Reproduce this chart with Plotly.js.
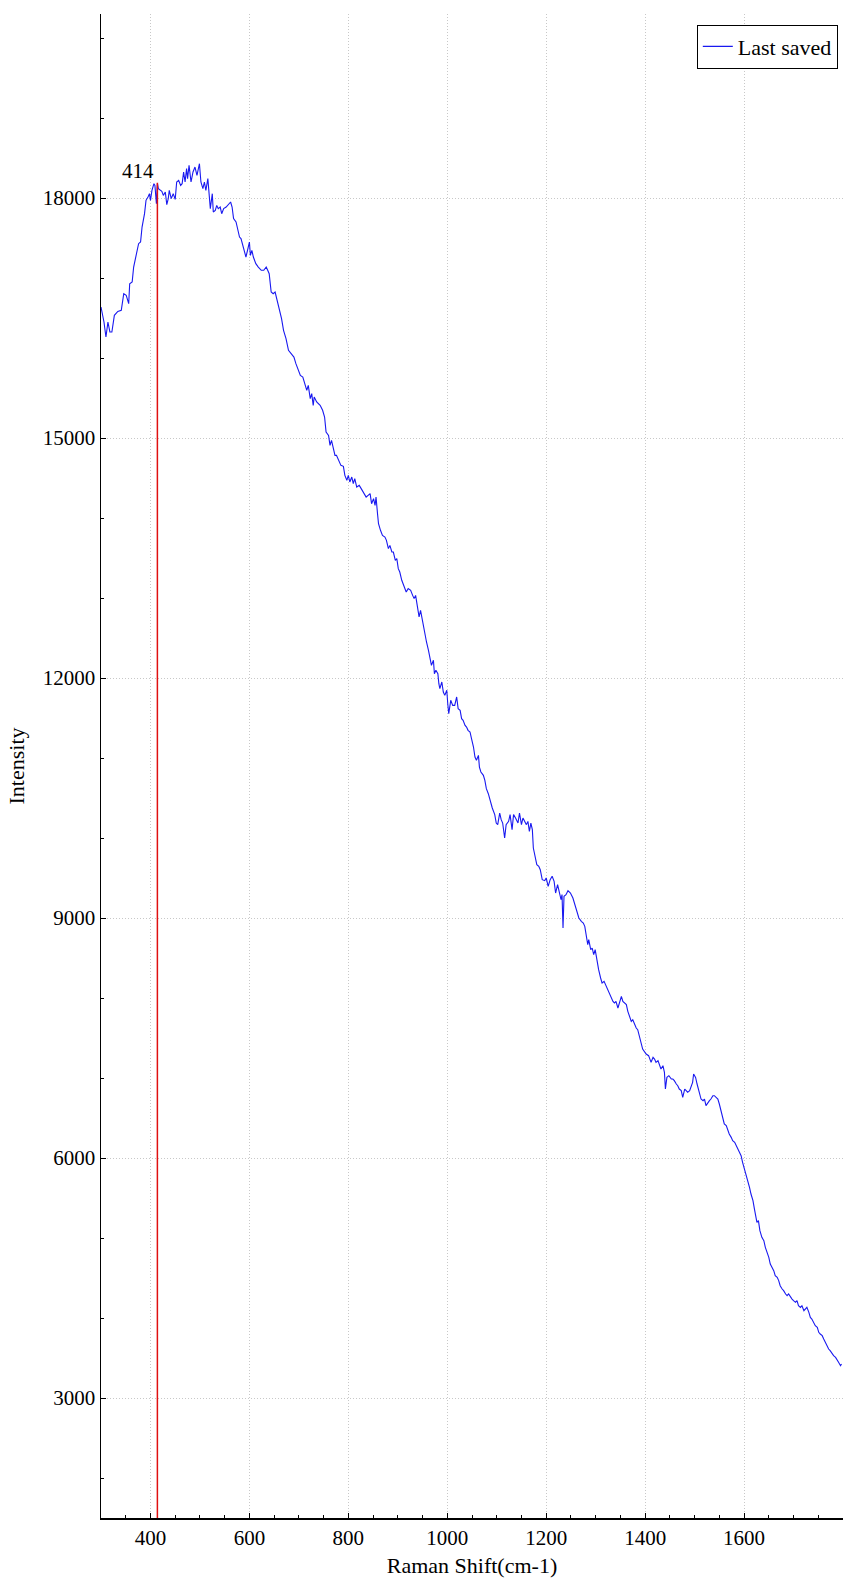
<!DOCTYPE html>
<html>
<head>
<meta charset="utf-8">
<script src="https://cdn.plot.ly/plotly-3.0.1.min.js"></script>
<style>html,body{margin:0;padding:0;background:#fff;}#chart{width:858px;height:1578px;}</style>
</head>
<body>
<div id="chart"></div>
<script>
const ramanShift = [
300,306,310,314,318,322,327,334,341,346,351,356,358,363,366,371,376,380,383,388,391,395,398,400,403,407,409,412,414,416,420,423,426,430,433,436,438,442,446,450,453,457,461,464,467,470,473,475,478,482,486,490,494,497,499,502,506,509,512,516,519,521,525,527,531,534,537,541,544,548,553,558,562,565,568,573,576,580,583,587,590,593,597,600,602,605,608,613,618,624,629,634,637,640,644,648,652,657,661,665,669,674,679,684,690,694,699,703,708,712,
716,719,723,726,729,731,736,743,748,752,755,760,763,766,770,773,776,780,785,790,793,797,800,803,807,810,813,817,822,826,830,836,840,844,847,851,854,856,859,861,865,869,874,877,881,884,888,891,895,898,901,904,908,913,917,921,926,930,933,936,939,941,943,946,950,955,958,962,965,968,972,974,977,981,983,985,989,992,995,999,1001,1003,1007,1011,1015,1019,1022,1026,1029,1032,1036,1039,1042,1046,1049,1053,1056,1059,1063,1065,1068,1073,1076,1079,1083,
1086,1091,1096,1099,1102,1106,1109,1112,1116,1119,1124,1127,1131,1134,1138,1143,1146,1150,1153,1156,1160,1163,1166,1169,1172,1174,1178,1181,1185,1188,1192,1197,1200,1204,1208,1212,1216,1219,1223,1227,1230,1232,1234,1236,1240,1244,1249,1254,1258,1262,1266,1271,1275,1278,1281,1284,1286,1290,1293,1296,1299,1302,1306,1310,1313,1317,1320,1323,1327,1331,1335,1338,1341,1345,1348,1352,1355,1358,1362,1365,1368,1372,1375,1379,1382,1385,
1389,1395,1402,1407,1412,1416,1419,1422,1426,1429,1432,1436,1439,1441,1444,1448,1453,1456,1459,1463,1466,1469,1473,1476,1480,1483,1486,1490,1493,1496,1498,1502,1505,1508,1513,1517,1520,1523,1527,1530,1533,1537,1540,1543,1547,1550,1554,1557,1560,1564,1567,1570,1574,1577,1581,1584,1587,1591,1594,1597,1601,1604,1607,1611,1614,1618,1621,1624,1626,1629,1632,1636,1640,1643,1647,1650,1653,1657,1660,1663,1667,1670,1673,1677,1680,1684,1687,1690,1694,1697,1700,1704,1707,1710,1714,1717,1721,1724,1727,1731,1734,1737,1741,1744,1748,1751,1754,1758,1761,1764,1768,1771,1774,1778,1781,1785,1788,1791,1795,1797
];
const intensity = [
16637,16450,16262,16450,16325,16325,16533,16583,16596,16804,16783,16679,16929,16950,17137,17283,17429,17450,17637,17804,17971,18012,18054,17971,18096,18179,18158,17929,18185,18117,18096,18083,18033,18075,17917,17992,18096,17992,18054,17983,18200,18221,18158,18179,18325,18200,18367,18242,18408,18200,18325,18387,18283,18408,18429,18200,18117,18200,18096,18242,18033,17867,18054,17825,17846,17908,17867,17887,17804,17867,17887,17929,17950,17887,17742,17700,17617,17512,17492,17408,17325,17262,17367,17450,17283,17346,17262,17179,17137,17096,17096,17137,17096,17054,16825,16804,16825,16700,16575,16492,16346,16242,16096,16054,16012,15929,15846,15783,15762,15679,
15596,15658,15492,15554,15408,15512,15450,15408,15346,15262,15075,15033,14908,14971,14846,14783,14783,14721,14658,14646,14533,14471,14533,14450,14512,14429,14492,14387,14408,14367,14325,14262,14283,14304,14179,14242,14158,14262,14054,13929,13846,13783,13762,13721,13617,13658,13575,13575,13471,13492,13367,13325,13221,13137,13075,13117,13096,13033,12992,13033,12908,12887,12763,12846,12700,12512,12450,12346,12221,12158,12221,12054,12096,12054,11929,11867,11950,11825,11783,11846,11679,11554,11721,11658,11658,11763,11617,11596,11492,11471,11408,11387,11346,11325,11242,11137,11012,10971,11033,10887,10825,10783,10721,10617,10554,
10479,10375,10292,10187,10167,10312,10229,10187,10000,10167,10208,10292,10104,10292,10250,10187,10312,10167,10250,10208,10167,10208,10083,10187,10104,9875,9729,9667,9646,9604,9479,9467,9500,9396,9479,9521,9458,9312,9417,9292,9229,9292,8875,9271,9292,9342,9312,9250,9167,9062,9000,8958,8937,8896,8750,8667,8729,8604,8625,8542,8604,8479,8354,8250,8187,8208,8167,8104,8062,8000,7958,7937,7958,7875,7937,8021,7958,7937,7917,7833,7771,7708,7729,7667,7625,7604,
7500,7362,7300,7279,7196,7258,7237,7196,7217,7154,7112,7154,7071,6862,7008,7029,6987,6987,6967,6925,6904,6862,6842,6758,6862,6842,6821,6842,6904,6946,7050,7008,6925,6862,6737,6717,6737,6654,6696,6717,6737,6779,6779,6758,6737,6675,6571,6487,6425,6404,6342,6300,6258,6217,6196,6154,6112,6071,6029,5946,5862,5800,5717,5633,5550,5467,5362,5279,5196,5217,5092,5008,4967,4883,4821,4758,4675,4633,4592,4529,4508,4467,4404,4362,4342,4300,4279,4300,4258,4237,4217,4196,4217,4154,4133,4154,4092,4112,4133,4071,4008,3987,3946,3904,3883,3821,3800,3779,3737,3696,3654,3612,3592,3550,3529,3508,3467,3446,3404,3425
];
const seriesName = 'Last saved';
const peakShift = 414;
const peakIntensity = 18190;
const xTickVals = [400,600,800,1000,1200,1400,1600,1800];
const xTickText = ['400','600','800','1000','1200','1400','1600',''];
const yTickVals = [3000,6000,9000,12000,15000,18000];
const yTickText = ['3000','6000','9000','12000','15000','18000'];
const xRange = [300,1800];
const yRange = [1500,20300];

const FONT = 'Liberation Serif, Times New Roman, serif';

const trace = {
  x: ramanShift, y: intensity, type: 'scatter', mode: 'lines',
  name: seriesName, line: {color: 'rgb(25,25,240)', width: 1.1}
};

const axisCommon = {
  showline: true, linecolor: '#000', linewidth: 1.5,
  ticks: 'inside', ticklen: 5, tickcolor: '#000', tickwidth: 1,
  showgrid: true, gridcolor: '#c8c8c8', griddash: '1px,2px', gridwidth: 1,
  zeroline: false, tickmode: 'array', tickfont: {size: 21, color: '#000'}
};

const layout = {
  width: 858, height: 1578,
  margin: {l: 101, r: 15, t: 14, b: 60},
  paper_bgcolor: '#fff', plot_bgcolor: '#fff',
  font: {family: FONT, size: 21, color: '#000'},
  showlegend: true,
  legend: {x: 0.993, xanchor: 'right', y: 0.993, yanchor: 'top',
           bordercolor: '#000', borderwidth: 1, bgcolor: '#fff',
           font: {size: 22, family: FONT}},
  xaxis: Object.assign({}, axisCommon, {
    range: xRange, tickvals: xTickVals, ticktext: xTickText,
    minor: {dtick: 50, tick0: 0, ticks: 'inside', ticklen: 3, tickcolor: '#000', showgrid: false},
    title: {text: 'Raman Shift(cm-1)', font: {size: 22, family: FONT}, standoff: 24}
  }),
  yaxis: Object.assign({}, axisCommon, {
    range: yRange, tickvals: yTickVals, ticktext: yTickText,
    minor: {dtick: 1000, tick0: 0, ticks: 'inside', ticklen: 3, tickcolor: '#000', showgrid: false},
    title: {text: 'Intensity', font: {size: 22, family: FONT}, standoff: 12}
  }),
  shapes: [{type: 'line', xref: 'x', yref: 'y', x0: peakShift, x1: peakShift,
            y0: yRange[0], y1: peakIntensity, line: {color: '#e01010', width: 1.5}}],
  annotations: [{x: peakShift, y: peakIntensity, xref: 'x', yref: 'y', text: String(peakShift),
                 showarrow: false, xanchor: 'right', yanchor: 'bottom', xshift: -1, yshift: -2,
                 font: {size: 21, family: FONT, color: '#000'}}]
};

Plotly.newPlot('chart', [trace], layout, {displayModeBar: false, staticPlot: true});
</script>
</body>
</html>
